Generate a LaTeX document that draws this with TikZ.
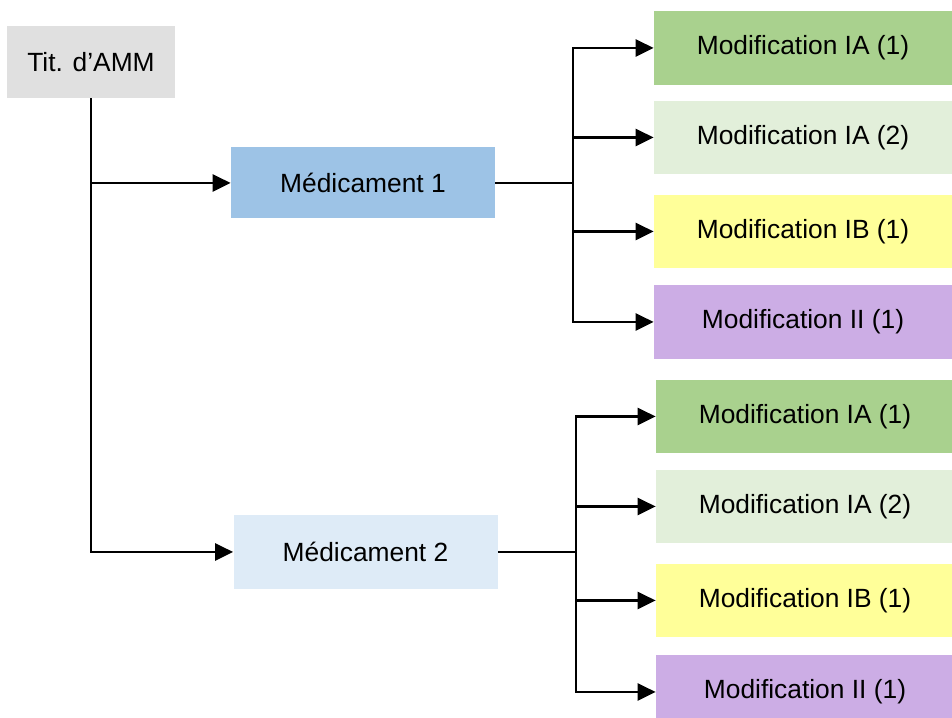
\documentclass[tikz,border=0pt]{standalone}
\usepackage{fontspec}
\setmainfont{Liberation Sans}
\usepackage{xcolor}
\usetikzlibrary{arrows.meta, positioning, calc}
\definecolor{titgray}{RGB}{224,224,224}
\definecolor{medblue}{RGB}{157,195,230}
\definecolor{medlight}{RGB}{222,235,247}
\definecolor{iagreen}{RGB}{169,209,142}
\definecolor{ialight}{RGB}{226,239,218}
\definecolor{ibyellow}{RGB}{255,255,153}
\definecolor{iipurple}{RGB}{204,173,229}

\begin{document}
\begin{tikzpicture}[
				box/.style={rectangle, minimum height=1.44cm, text centered, font=\fontsize{15}{18}\selectfont},
				holder/.style={box, minimum width=3.36cm, fill=titgray},
				drug/.style={box, minimum width=5.28cm, minimum height=1.42cm},
				modif/.style={box, minimum width=5.96cm, minimum height=1.47cm},
				arrow/.style={-{Triangle[length=0.36cm, width=0.34cm]}, line width=1.6pt, black},
				link/.style={line width=1.6pt, black}
			]
			\useasboundingbox (0,0) rectangle (19.04,-14.36);

			% Holder
			\node (tit) [holder] at (1.82,-1.24) {Tit. d’AMM};

			% Drugs
			\node (med1) [drug, fill=medblue] at (7.26,-3.66) {Médicament 1};
			\node (med2) [drug, fill=medlight, minimum height=1.48cm] at (7.31,-11.04) {Médicament 2};

			% Variations of drug 1
			\node (m1a) [modif, fill=iagreen] at (16.06,-0.96) {Modification IA (1)};
			\node (m1b) [modif, fill=ialight] at (16.06,-2.75) {Modification IA (2)};
			\node (m1c) [modif, fill=ibyellow] at (16.06,-4.63) {Modification IB (1)};
			\node (m1d) [modif, fill=iipurple] at (16.06,-6.44) {Modification II (1)};

			% Variations of drug 2
			\node (m2a) [modif, fill=iagreen] at (16.10,-8.33) {Modification IA (1)};
			\node (m2b) [modif, fill=ialight] at (16.10,-10.13) {Modification IA (2)};
			\node (m2c) [modif, fill=ibyellow] at (16.10,-12.01) {Modification IB (1)};
			\node (m2d) [modif, fill=iipurple] at (16.10,-13.84) {Modification II (1)};

			% Holder to drugs
			\draw [arrow] (tit.south) |- (med2.west);
			\draw [arrow] (tit.south |- med1.west) -- (med1.west);

			% Drug 1 fan-out
			\coordinate (j1) at (11.46,-3.66);
			\draw [link] (med1.east) -- (j1);
			\draw [arrow] (j1) |- (m1a.west);
			\draw [arrow] (j1) |- (m1b.west);
			\draw [arrow] (j1) |- (m1c.west);
			\draw [arrow] (j1) |- (m1d.west);

			% Drug 2 fan-out
			\coordinate (j2) at (11.52,-11.04);
			\draw [link] (med2.east) -- (j2);
			\draw [arrow] (j2) |- (m2a.west);
			\draw [arrow] (j2) |- (m2b.west);
			\draw [arrow] (j2) |- (m2c.west);
			\draw [arrow] (j2) |- (m2d.west);

		\end{tikzpicture}
\end{document}
